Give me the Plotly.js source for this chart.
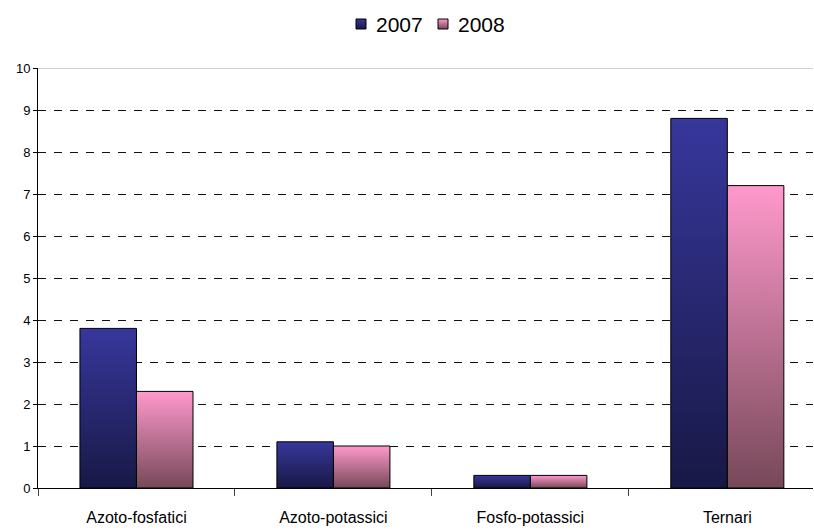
<!DOCTYPE html>
<html>
<head>
<meta charset="utf-8">
<script src="https://cdn.plot.ly/plotly-3.0.1.min.js"></script>
<style>html,body{margin:0;padding:0;background:#fff;}#chart{width:814px;height:531px;}</style>
</head>
<body>
<div id="chart"></div>
<script>
const categories = ["Azoto-fosfatici", "Azoto-potassici", "Fosfo-potassici", "Ternari"];
const seriesNames = ["2007", "2008"];
const values2007 = [3.8, 1.1, 0.3, 8.8];
const values2008 = [2.3, 1.0, 0.3, 7.2];
const yTicks = [0, 1, 2, 3, 4, 5, 6, 7, 8, 9, 10];

const gradients = {
  g2007: ["#37379c", "#181846"],
  g2008: ["#ff99cc", "#764858"]
};

const traces = [
  {type: "bar", name: seriesNames[0], x: categories, y: values2007,
   marker: {color: "#26266f", line: {color: "#000", width: 1}}},
  {type: "bar", name: seriesNames[1], x: categories, y: values2008,
   marker: {color: "#c07598", line: {color: "#000", width: 1}}}
];

const layout = {
  width: 814, height: 531,
  margin: {l: 38, r: 1, t: 68, b: 43},
  paper_bgcolor: "#fff", plot_bgcolor: "#fff",
  font: {family: "Liberation Sans, Arial, sans-serif", color: "#000", size: 13},
  barmode: "group", bargap: 0.426, bargroupgap: 0,
  showlegend: true,
  legend: {orientation: "h", x: 0.5, xanchor: "center", y: 1.0, yref: "container", yanchor: "top",
           font: {size: 21}, itemwidth: 30, traceorder: "normal", itemclick: false},
  xaxis: {type: "category", range: [-0.5, 3.435], showline: true, linecolor: "#000", linewidth: 1,
          ticks: "outside", tickson: "boundaries", ticklen: 7, tickcolor: "#444",
          ticklabelstandoff: 15,
          tickfont: {size: 16}, showgrid: false, zeroline: false, fixedrange: true},
  yaxis: {range: [0, 10], tickvals: yTicks, ticktext: yTicks.map(String),
          showline: true, linecolor: "#000", linewidth: 1,
          ticks: "outside", ticklen: 4, tickcolor: "#000", tickfont: {size: 13},
          showgrid: true, gridcolor: "#111", griddash: "8px,8px", gridwidth: 1,
          zeroline: false, fixedrange: true},
  shapes: [{type: "line", xref: "paper", yref: "y", x0: 0, x1: 1, y0: 10, y1: 10,
            line: {color: "#a0a0a0", width: 1}}]
};

Plotly.newPlot("chart", traces, layout, {displayModeBar: false, staticPlot: true}).then(function (gd) {
  const svg = gd.querySelector("svg.main-svg");
  const ns = "http://www.w3.org/2000/svg";
  let defs = svg.querySelector("defs");
  if (!defs) { defs = document.createElementNS(ns, "defs"); svg.insertBefore(defs, svg.firstChild); }
  Object.keys(gradients).forEach(function (id) {
    const lg = document.createElementNS(ns, "linearGradient");
    lg.setAttribute("id", id);
    lg.setAttribute("x1", "0"); lg.setAttribute("y1", "0");
    lg.setAttribute("x2", "0"); lg.setAttribute("y2", "1");
    [["0", gradients[id][0]], ["1", gradients[id][1]]].forEach(function (s) {
      const st = document.createElementNS(ns, "stop");
      st.setAttribute("offset", s[0]); st.setAttribute("stop-color", s[1]);
      lg.appendChild(st);
    });
    defs.appendChild(lg);
  });
  const ids = ["g2007", "g2008"];
  gd.querySelectorAll(".barlayer .trace.bars").forEach(function (t, i) {
    t.querySelectorAll("path").forEach(function (p) { p.style.fill = "url(#" + ids[i] + ")"; });
  });
  // legend: small square swatches close to text, positioned like the reference
  const targets = [[361, 24], [443, 24]];
  gd.querySelectorAll(".legend .traces").forEach(function (t, i) {
    const sym = t.querySelector(".legendpoints path");
    if (!sym) return;
    sym.setAttribute("d", "M5,5H-5V-5H5Z");
    sym.style.fill = "url(#" + ids[i] + ")";
    sym.style.stroke = "#000";
    sym.style.strokeWidth = "1px";
    const txt = t.querySelector("text.legendtext");
    if (txt) txt.setAttribute("x", "35");
    const r = sym.getBoundingClientRect();
    const cx = r.left + r.width / 2, cy = r.top + r.height / 2;
    const m = /translate\(([-\d.]+),\s*([-\d.]+)\)/.exec(t.getAttribute("transform") || "translate(0,0)");
    const tx = m ? parseFloat(m[1]) : 0, ty = m ? parseFloat(m[2]) : 0;
    t.setAttribute("transform", "translate(" + (tx + targets[i][0] - cx) + "," + (ty + targets[i][1] - cy) + ")");
  });
});
</script>
</body>
</html>
